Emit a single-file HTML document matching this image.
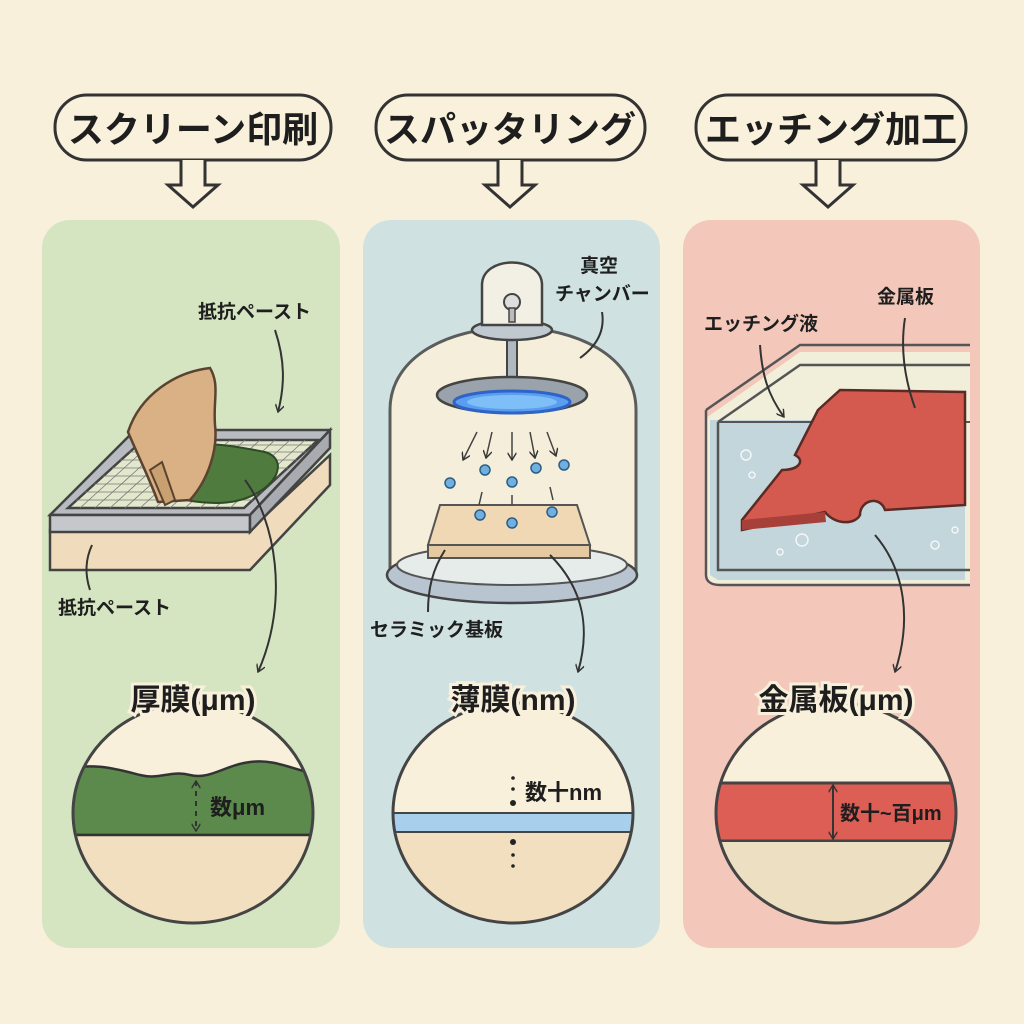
<!DOCTYPE html>
<html><head><meta charset="utf-8"><style>
html,body{margin:0;padding:0;background:#f8f0da;}
svg{display:block}
text{font-family:"Liberation Sans","Noto Sans CJK JP",sans-serif;fill:#1e1e1e}
</style></head><body>
<svg width="1024" height="1024" viewBox="0 0 1024 1024" xmlns="http://www.w3.org/2000/svg">
<defs>
<marker id="ah" viewBox="0 0 10 10" refX="9" refY="5" markerWidth="9" markerHeight="9" markerUnits="userSpaceOnUse" orient="auto-start-reverse"><path d="M1,0 L9,5 L1,10" fill="none" stroke="#333" stroke-width="1.6"/></marker>
<clipPath id="c1"><ellipse cx="193" cy="813" rx="120" ry="110"/></clipPath>
<clipPath id="c2"><ellipse cx="513" cy="813" rx="120" ry="110"/></clipPath>
<clipPath id="c3"><ellipse cx="836" cy="813" rx="120" ry="110"/></clipPath>
</defs>
<rect width="1024" height="1024" fill="#f8f0da"/>
<g fill="#f9f1dc" stroke="#333" stroke-width="3">
<rect x="55" y="95" width="276" height="65" rx="32"/>
<rect x="376" y="95" width="269" height="65" rx="32"/>
<rect x="696" y="95" width="270" height="65" rx="32"/>
<path d="M181,160 V185 H168 L193,207 L218,185 H205 V160"/>
<path d="M498,160 V185 H485 L510,207 L535,185 H522 V160"/>
<path d="M816,160 V185 H803 L828,207 L853,185 H840 V160"/>
</g>
<g font-size="36" font-weight="bold" text-anchor="middle">
<text x="193" y="142">スクリーン印刷</text>
<text x="510" y="142">スパッタリング</text>
<text x="831" y="142">エッチング加工</text>
</g>
<rect x="42" y="220" width="298" height="728" rx="28" fill="#d5e5c1"/>
<rect x="363" y="220" width="297" height="728" rx="28" fill="#cfe2e1"/>
<rect x="683" y="220" width="297" height="728" rx="28" fill="#f3c8bb"/>

<g stroke="#444" stroke-width="2.5">
<path d="M50,530 L250,530 L330,455 L330,485 L250,570 L50,570 Z" fill="#f0dcbc"/>
<path d="M50,515 L135,430 L330,430 L250,515 Z" fill="#b8bcc0"/>
<path d="M50,515 L250,515 L250,532 L50,532 Z" fill="#c5c8cb"/>
<path d="M250,515 L330,430 L330,448 L250,532 Z" fill="#a8acb0"/>
<path d="M68,508 L143,440 L318,440 L244,508 Z" fill="#e3e8cc"/>
</g>
<g stroke="#777" stroke-width="0.8">
<path d="M80,508 L155,440 M95,508 L170,440 M110,508 L185,440 M125,508 L200,440 M140,508 L215,440 M155,508 L230,440 M170,508 L245,440 M185,508 L260,440 M200,508 L275,440 M215,508 L290,440 M230,508 L305,440"/>
<path d="M76,500 L253,500 M85,492 L262,492 M94,484 L270,484 M103,476 L279,476 M112,468 L288,468 M120,460 L297,460 M129,452 L306,452 M138,445 L312,445"/>
</g>
<path d="M175,450 C200,440 230,445 265,452 C285,458 280,478 262,490 C240,505 215,505 185,500 C160,495 150,475 175,450 Z" fill="#4f7b3f" stroke="#2f4a26" stroke-width="2"/>
<path d="M128,432 C140,395 175,372 210,368 C220,385 213,400 215,425 C218,450 208,480 190,500 L158,502 C150,480 140,460 128,432 Z" fill="#d9b184" stroke="#5a4330" stroke-width="2.5"/>
<path d="M150,470 L165,505 L175,500 L162,462 Z" fill="#c9a070" stroke="#5a4330" stroke-width="2"/>
<text x="198" y="318" font-size="19" font-weight="bold">抵抗ペースト</text>
<text x="58" y="614" font-size="19" font-weight="bold">抵抗ペースト</text>
<g fill="none" stroke="#333" stroke-width="2">
<path d="M275,330 C285,360 285,385 278,412" marker-end="url(#ah)"/>
<path d="M90,590 C85,575 85,560 92,545"/>
<path d="M245,480 C275,520 290,600 258,672" marker-end="url(#ah)"/>
</g>

<path d="M390,570 L390,410 C390,300 636,300 636,410 L636,570 Z" fill="#f6efda" stroke="#555" stroke-width="3" opacity="0.95"/>
<ellipse cx="512" cy="575" rx="125" ry="28" fill="#b8c4d0" stroke="#444" stroke-width="2.5"/>
<ellipse cx="512" cy="565" rx="115" ry="20" fill="#e6ecea" stroke="#555" stroke-width="2"/>
<rect x="507" y="335" width="10" height="45" fill="#b0b8c0" stroke="#444" stroke-width="2"/>
<ellipse cx="512" cy="330" rx="40" ry="10" fill="#c0c8d0" stroke="#444" stroke-width="2.5"/>
<path d="M482,325 L482,285 C482,255 542,255 542,285 L542,325 Z" fill="#f2f0e4" stroke="#444" stroke-width="2.5"/>
<circle cx="512" cy="302" r="8" fill="#ddd" stroke="#444" stroke-width="2"/>
<rect x="509" y="308" width="6" height="14" fill="#bbb" stroke="#444" stroke-width="1.5"/>
<ellipse cx="512" cy="395" rx="75" ry="18" fill="#9aa3ac" stroke="#444" stroke-width="2.5"/>
<ellipse cx="512" cy="402" rx="58" ry="11" fill="#5b9ef0" stroke="#2e64c8" stroke-width="3"/>
<ellipse cx="512" cy="402" rx="45" ry="7" fill="#7fbff8"/>
<path d="M440,505 L577,505 L590,545 L428,545 Z" fill="#f0d8b4" stroke="#555" stroke-width="2"/>
<path d="M428,545 L590,545 L590,558 L428,558 Z" fill="#e5c9a0" stroke="#555" stroke-width="2"/>
<g fill="#6fb0e0" stroke="#2c5e84" stroke-width="1.5">
<circle cx="450" cy="483" r="5"/><circle cx="485" cy="470" r="5"/><circle cx="512" cy="482" r="5"/><circle cx="536" cy="468" r="5"/><circle cx="564" cy="465" r="5"/><circle cx="480" cy="515" r="5"/><circle cx="512" cy="523" r="5"/><circle cx="552" cy="512" r="5"/>
</g>
<g fill="none" stroke="#444" stroke-width="1.5">
<path d="M477,432 L463,460" marker-end="url(#ah)"/><path d="M492,432 L486,458" marker-end="url(#ah)"/><path d="M512,432 L512,460" marker-end="url(#ah)"/><path d="M530,432 L535,458" marker-end="url(#ah)"/><path d="M547,432 L556,456" marker-end="url(#ah)"/>
<path d="M482,492 L479,505 M512,495 L512,505 M550,487 L553,500"/>
</g>
<text x="580" y="272" font-size="19" font-weight="bold">真空</text>
<text x="555" y="300" font-size="19" font-weight="bold">チャンバー</text>
<text x="370" y="636" font-size="19" font-weight="bold">セラミック基板</text>
<g fill="none" stroke="#333" stroke-width="2">
<path d="M602,312 C605,330 598,345 580,358"/>
<path d="M445,550 C432,570 428,590 428,612"/>
<path d="M550,555 C585,590 590,630 578,672" marker-end="url(#ah)"/>
</g>

<path d="M706,418 L800,352 L970,352 L970,585 L718,585 C710,585 706,578 706,570 Z" fill="#f1eed9" stroke="none"/>
<path d="M710,420 L965,420 L965,580 L718,580 L710,575 Z" fill="#c3d6db"/>
<g fill="none" stroke="#555" stroke-width="2.5">
<path d="M706,410 L800,345 L970,345"/>
<path d="M706,410 L706,575 C706,582 712,585 720,585 L970,585"/>
<path d="M718,422 L800,365 L970,365"/>
<path d="M718,422 L718,570 L970,570"/>
<path d="M718,422 L970,422" stroke-width="2"/>
</g>
<path d="M818,410 L840,390 L965,392 L965,505 L885,510 C880,495 860,500 860,515 C855,525 835,525 825,512 L742,530 L742,520 L782,470 C800,470 805,460 795,455 Z" fill="#d45a50" stroke="#5a2a25" stroke-width="2.5"/>
<path d="M742,520 L825,512 L826,522 L742,530 Z" fill="#a8403a"/>
<g fill="none" stroke="#fff" stroke-width="1.5" opacity="0.8">
<circle cx="746" cy="455" r="5"/><circle cx="752" cy="475" r="3"/><circle cx="802" cy="540" r="6"/><circle cx="780" cy="552" r="3"/><circle cx="935" cy="545" r="4"/><circle cx="955" cy="530" r="3"/>
</g>
<text x="877" y="303" font-size="19" font-weight="bold">金属板</text>
<text x="704" y="330" font-size="19" font-weight="bold">エッチング液</text>
<g fill="none" stroke="#333" stroke-width="2">
<path d="M905,318 C900,350 905,380 915,408"/>
<path d="M760,345 C762,375 768,395 784,417" marker-end="url(#ah)"/>
<path d="M875,535 C905,570 912,620 895,672" marker-end="url(#ah)"/>
</g>

<g clip-path="url(#c1)">
<rect x="60" y="700" width="270" height="230" fill="#f8f0da"/>
<path d="M60,772 C90,760 120,770 140,775 C160,780 170,770 190,775 C210,780 225,765 250,762 C280,758 300,775 330,775 L330,835 L60,835 Z" fill="#5c8a4c" stroke="#333" stroke-width="2.5"/>
<rect x="60" y="835" width="270" height="100" fill="#f1dfc0" stroke="#333" stroke-width="2.5"/>
</g>
<ellipse cx="193" cy="813" rx="120" ry="110" fill="none" stroke="#444" stroke-width="3"/>
<g clip-path="url(#c2)">
<rect x="390" y="700" width="250" height="230" fill="#f8f0da"/>
<rect x="390" y="813" width="250" height="19" fill="#a8d0ec" stroke="#444" stroke-width="2"/>
<rect x="390" y="832" width="250" height="100" fill="#f1dfc0" stroke="#444" stroke-width="2"/>
</g>
<ellipse cx="513" cy="813" rx="120" ry="110" fill="none" stroke="#444" stroke-width="3"/>
<g clip-path="url(#c3)">
<rect x="710" y="700" width="260" height="230" fill="#f8f0da"/>
<rect x="710" y="783" width="260" height="58" fill="#dc5e55" stroke="#444" stroke-width="3"/>
<rect x="710" y="841" width="260" height="100" fill="#ede0c2" stroke="#444" stroke-width="2"/>
</g>
<ellipse cx="836" cy="813" rx="120" ry="110" fill="none" stroke="#444" stroke-width="3"/>
<g font-size="30" font-weight="bold" text-anchor="middle" stroke="#f8f0da" stroke-width="6" paint-order="stroke">
<text x="193" y="710">厚膜(μm)</text>
<text x="513" y="710">薄膜(nm)</text>
<text x="836" y="710">金属板(μm)</text>
</g>
<g fill="none" stroke="#333" stroke-width="2">
<path d="M196,781 L196,831" stroke-dasharray="5,5" marker-start="url(#ah)" marker-end="url(#ah)"/>
<path d="M833,785 L833,839" marker-start="url(#ah)" marker-end="url(#ah)"/>
</g>
<text x="210" y="815" font-size="22" font-weight="bold">数μm</text>
<text x="525" y="800" font-size="22" font-weight="bold">数十nm</text>
<text x="840" y="820" font-size="20" font-weight="bold">数十~百μm</text>
<g fill="#222">
<circle cx="513" cy="778" r="1.8"/><circle cx="513" cy="789" r="1.8"/><circle cx="513" cy="803" r="3"/>
<circle cx="513" cy="842" r="3"/><circle cx="513" cy="855" r="1.8"/><circle cx="513" cy="866" r="1.8"/>
</g>
</svg>
</body></html>
